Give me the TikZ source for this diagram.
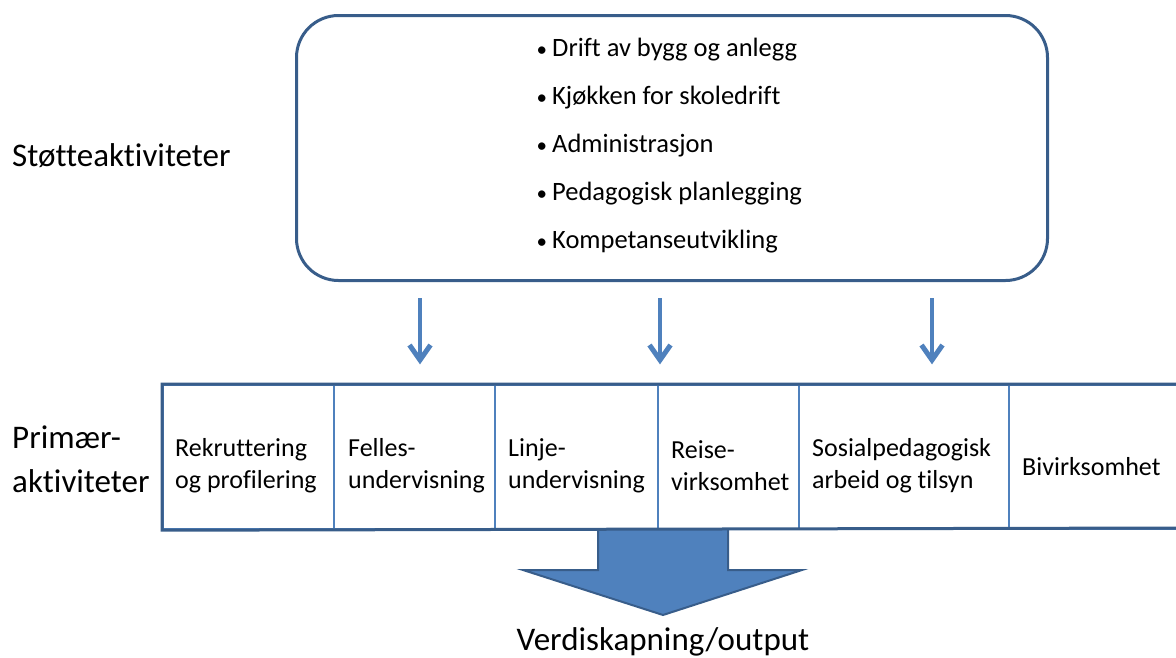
\documentclass[tikz,border=0pt]{standalone}
\usepackage{fontspec}
\setmainfont[Ligatures={NoCommon}]{Carlito}
\usetikzlibrary{calc}
\definecolor{accent}{HTML}{4F81BD}
\definecolor{edge}{HTML}{385D8A}
\newcommand{\listmark}{\makebox[19pt][l]{\hspace{3.5pt}\fontsize{21}{21}\selectfont•}}
\begin{document}
\begin{tikzpicture}[x=1pt,y=-1pt,
  supportbox/.style={draw=edge, line width=3pt, rounded corners=42pt},
  cellbox/.style={draw=accent, line width=2.2pt, anchor=north west,
    minimum height=144pt, inner sep=0pt},
  celltext/.style={anchor=west, align=left, inner sep=0pt,
    font=\fontsize{26}{32}\selectfont},
  bullet/.style={anchor=base west, inner sep=0pt,
    font=\fontsize{26.5}{30}\selectfont},
  biglabel/.style={inner sep=0pt, font=\fontsize{33}{44}\selectfont},
  feed/.style={draw=accent, line width=4.8pt},
  feedhead/.style={draw=accent, line width=5pt, line join=miter, miter limit=10},
  bigarrow/.style={fill=accent, draw=edge, line width=2pt, line join=miter},
  rowframe/.style={draw=edge, line width=3pt}]
\useasboundingbox (0,0) rectangle (1176,657);

% support activities
\node[supportbox, anchor=north west, minimum width=751pt, minimum height=265pt]
  (support) at (295,14) {};
\foreach \i/\t/\y in {1/Drift av bygg og anlegg/56,
                      2/Kjøkken for skoledrift/104,
                      3/Administrasjon/152,
                      4/Pedagogisk planlegging/200,
                      5/Kompetanseutvikling/248}
  \node[bullet] (b\i) at (533,\y) {\listmark\t};

\node[biglabel, anchor=base west] (stotte) at (12,166) {Støtteaktiviteter};

% primary activities row
\node[cellbox, minimum width=171pt] (c1) at (162,384) {};
\node[cellbox, minimum width=161pt] (c2) at (333,384) {};
\node[cellbox, minimum width=163pt] (c3) at (494,384) {};
\node[cellbox, minimum width=141pt] (c4) at (657,384) {};
\node[cellbox, minimum width=210pt] (c5) at (798,384) {};
\node[cellbox, minimum width=200pt] (c6) at (1008,384) {};

\node[celltext] (t1) at ($(c1.west)+(13,9)$) {Rekruttering\\og profilering};
\node[celltext] (t2) at ($(c2.west)+(15,9)$) {Felles-\\undervisning};
\node[celltext] (t3) at ($(c3.west)+(14,9)$) {Linje-\\undervisning};
\node[celltext] (t4) at ($(c4.west)+(14,9)$) {Reise-\\virksomhet};
\node[celltext] (t5) at ($(c5.west)+(14,9)$) {Sosialpedagogisk\\arbeid og tilsyn};
\node[celltext] (t6) at ($(c6.west)+(14,9)$) {Bivirksomhet};

\node[biglabel, anchor=base west, align=left] (primaer) at (12,492)
  {Primær-\\aktiviteter};

% feed arrows from support to primary activities, with open chevron heads
\foreach \i/\x in {1/420,2/660,3/932} {
  \coordinate (f\i s) at (\x,298);
  \coordinate (f\i e) at (\x,360);
  \draw[feed] (f\i s) -- (f\i e);
  \draw[feedhead] ($(f\i e)+(-10.5,-15)$) -- (f\i e) -- ($(f\i e)+(10.5,-15)$);
}

% value creation arrow
\draw[bigarrow] (598,528) -- (598,570) -- (523,570) -- (663,615)
  -- (802,570) -- (728,570) -- (728,528);

% outer frame of the row (open to the right)
\draw[rowframe] (1180,384) -- (c1.north west) -- (c1.south west) -- (1180,528);

\node[biglabel, anchor=base] (output) at (663,650) {Verdiskapning/output};
\end{tikzpicture}
\end{document}
